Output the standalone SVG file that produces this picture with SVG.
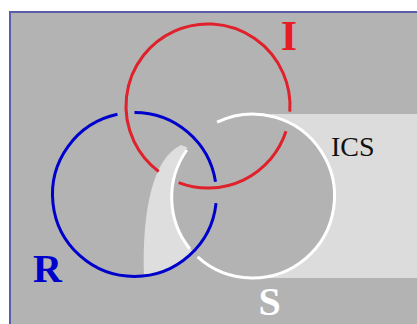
<svg xmlns="http://www.w3.org/2000/svg" width="417" height="324" viewBox="0 0 417 324">
  <style>
    .ring { fill: none; stroke-width: 3; stroke-linecap: butt; }
    .red { stroke: #e0202a; }
    .blue { stroke: #0000cc; }
    .white { stroke: #ffffff; }
    .lbl { font-family: "Liberation Serif", "Times New Roman", serif; font-weight: bold; }
  </style>
  <rect x="0" y="0" width="417" height="324" fill="#ffffff"/>
  <rect id="frame" x="10" y="12" width="420" height="330" fill="#b3b3b3" stroke="#5a5ea8" stroke-width="2"/>
  <g id="ics-band">
    <rect x="252.5" y="114" width="170" height="164" fill="#dcdcdc"/>
    <circle cx="252.5" cy="196" r="82" fill="#b3b3b3"/>
    <text x="331" y="156" font-family="Liberation Serif, Times New Roman, serif" font-size="28" fill="#111111">ICS</text>
  </g>
  <g id="crescent">
    <path d="M181,145 L187.5,147.5 A82,82 0 0 0 193.5,252 A82,82 0 0 1 144,276 C142,210 153,158 181,145 Z" fill="#dedede"/>
  </g>
  <g id="connectors">
    <g id="I">
      <path class="ring red" d="M286,131.3 A82,82 0 0 1 178.6,182.6 M158.7,171.5 A82,82 0 1 1 289.8,111.7"/>
      <text class="lbl" x="289" y="50" font-size="42" fill="#e81c24" text-anchor="middle">I</text>
    </g>
    <g id="R">
      <path class="ring blue" d="M216.05,203.07 A82,82 0 1 1 117.45,114.3 M134.5,112.5 A82,82 0 0 1 215.5,181.7"/>
      <text class="lbl" x="33" y="281.5" font-size="40" fill="#0000cc">R</text>
    </g>
    <g id="S">
      <path class="ring white" d="M217.1,122.1 A82,82 0 1 1 197.6,256.9 M189.7,248.7 A82,82 0 0 1 186.8,150"/>
      <text class="lbl" x="269.5" y="314.5" font-size="40" fill="#ffffff" text-anchor="middle">S</text>
    </g>
  </g>
</svg>
